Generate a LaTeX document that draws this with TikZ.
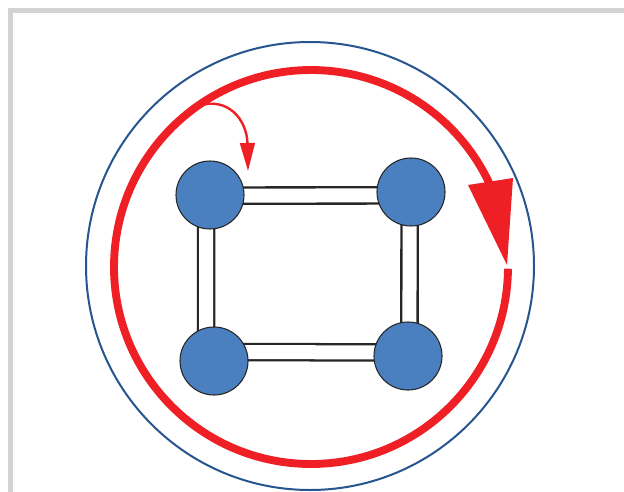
\documentclass[tikz,border=0pt]{standalone}
\usetikzlibrary{arrows.meta,backgrounds}
\definecolor{nodeblue}{HTML}{4A80C0}
\definecolor{ringblue}{HTML}{27558F}
\definecolor{arrowred}{HTML}{EE1F25}
\definecolor{framegray}{HTML}{D3D3D3}
\begin{document}
\begin{tikzpicture}[x=0.75pt,y=-0.75pt,
  vertex/.style={circle,draw=black!85,line width=0.8pt,fill=nodeblue,minimum size=51pt,inner sep=0pt},
  bond/.style={draw=black!85,line width=1.7pt,double=white,double distance=10.5pt},
  ring/.style={draw=ringblue,line width=1.5pt},
  cycle arrow/.style={draw=arrowred,line width=5.9pt},
  hop arrow/.style={draw=arrowred,line width=1.8pt,-{Triangle[length=21pt,width=11pt]}}]
\useasboundingbox (0,0) rectangle (624,492);
\draw[framegray,line width=3.4pt] (10.5,492) -- (10.5,10.5) -- (624,10.5);
% outer ring
\draw[ring] (310,266) circle [radius=224];
% red cycle
\draw[cycle arrow] (311,267) ++(0.5:197) arc[start angle=0.5,end angle=336,radius=197];
\fill[arrowred] (468,185) -- (513,178) -- (507,265) -- cycle;
% vertices
\node[vertex] (tl) at (210,195) {};
\node[vertex] (tr) at (411,192) {};
\node[vertex] (bl) at (214,361) {};
\node[vertex] (br) at (408,356) {};
\begin{scope}[on background layer]
\fill[white] (0,0) rectangle (624,492);
\draw[bond] ([yshift=-0.4pt]tl.center) -- ([yshift=-2.6pt]tr.center);
\draw[bond] ([xshift=-1.1pt]tr.center) -- ([xshift=1.1pt]br.center);
\draw[bond] ([yshift=2.6pt]br.center) -- ([yshift=6.8pt]bl.center);
\draw[bond] ([xshift=-6pt]bl.center) -- ([xshift=-2.8pt]tl.center);
\end{scope}
% small hop arrow
\coordinate (hopstart) at (198,106);
\coordinate (hopend) at (248,171);
\draw[hop arrow] (hopstart) .. controls (228,96) and (247,120) .. (hopend);
\end{tikzpicture}
\end{document}
